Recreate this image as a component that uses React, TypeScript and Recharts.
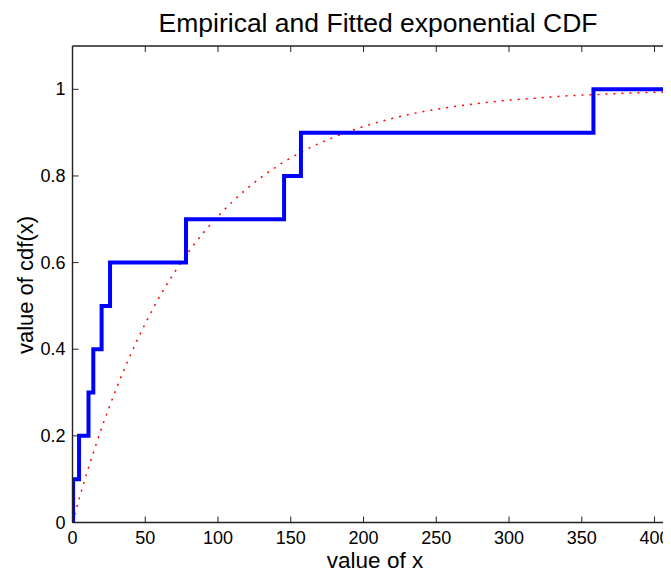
import { Line, LineChart, XAxis, YAxis } from "recharts";

// empirical cdf: jump locations and levels (stairs)
const ecdfX = [0.4, 0.4, 4.5, 11, 14.3, 20, 25.8, 78, 145.4, 157, 358, 412];
const ecdfY = [0, 0.1, 0.2, 0.3, 0.4, 0.5, 0.6, 0.7, 0.8, 0.9, 1.0, 1.0];

// fitted exponential cdf, sampled along x
const fitX = [0, 5, 10, 15, 20, 25, 30, 40, 50, 60, 70, 80, 90, 100, 120, 140, 160, 180, 200, 220, 240, 260, 280, 300, 320, 340, 360, 380, 400, 412];
const fitY = [0, 0.06, 0.116, 0.168, 0.218, 0.264, 0.308, 0.388, 0.459, 0.522, 0.577, 0.626, 0.669, 0.707, 0.771, 0.821, 0.86, 0.89, 0.914, 0.933, 0.948, 0.959, 0.968, 0.975, 0.98, 0.985, 0.988, 0.991, 0.993, 0.994];

const xTicks = [0, 50, 100, 150, 200, 250, 300, 350, 400];
const yTicks = [0, 0.2, 0.4, 0.6, 0.8, 1];

const ecdfData = ecdfX.map((x, i) => ({ x, y: ecdfY[i] }));
const fitData = fitX.map((x, i) => ({ x, y: fitY[i] }));

const FONT = '"Liberation Sans", Arial, Helvetica, sans-serif';
const AXIS = "#222";
const TICK_LEN = 6;

function BottomTick({ x, y, payload }: any) {
  return (
    <g>
      <line x1={x} y1={y} x2={x} y2={y - TICK_LEN} stroke={AXIS} strokeWidth={1} />
      <text x={x} y={y + 15} textAnchor="middle" dominantBaseline="central" fontFamily={FONT} fontSize={18} fill="#000">
        {payload.value}
      </text>
    </g>
  );
}

function TopTick({ x, y }: any) {
  return <line x1={x} y1={y} x2={x} y2={y + TICK_LEN} stroke={AXIS} strokeWidth={1} />;
}

function LeftTick({ x, y, payload }: any) {
  return (
    <g>
      <line x1={x} y1={y} x2={x + TICK_LEN} y2={y} stroke={AXIS} strokeWidth={1} />
      <text x={x - 7} y={y} textAnchor="end" dominantBaseline="central" fontFamily={FONT} fontSize={18} fill="#000">
        {payload.value}
      </text>
    </g>
  );
}

function RightTick({ x, y }: any) {
  return <line x1={x} y1={y} x2={x - TICK_LEN} y2={y} stroke={AXIS} strokeWidth={1} />;
}

export default function App() {
  return (
    <div style={{ position: "relative", width: 663, height: 564, overflow: "hidden", fontFamily: FONT }}>
      <div
        style={{
          position: "absolute",
          left: 370,
          top: 15,
          transform: "translate(-50%, -50%)",
          fontSize: 26.5,
          whiteSpace: "nowrap",
          color: "#000",
        }}
      >
        Empirical and Fitted exponential CDF
      </div>
      <div
        style={{
          position: "absolute",
          left: 367,
          top: 553,
          transform: "translate(-50%, -50%)",
          fontSize: 22.5,
          lineHeight: 0.9,
          whiteSpace: "nowrap",
          color: "#000",
        }}
      >
        value of x
      </div>
      <div
        style={{
          position: "absolute",
          left: 18,
          top: 277,
          transform: "translate(-50%, -50%) rotate(-90deg)",
          fontSize: 22,
          whiteSpace: "nowrap",
          color: "#000",
        }}
      >
        value of cdf(x)
      </div>
      <LineChart width={680} height={564} margin={{ top: 0, right: 0, bottom: 0, left: 0 }}>
        <XAxis
          xAxisId="bottom"
          dataKey="x"
          type="number"
          domain={[0, 412]}
          allowDataOverflow
          ticks={xTicks}
          height={49.5}
          axisLine={{ stroke: AXIS, strokeWidth: 1.4 }}
          tickLine={false}
          tickSize={0}
          tickMargin={0}
          tick={<BottomTick />}
          interval={0}
        />
        <XAxis
          xAxisId="top"
          orientation="top"
          dataKey="x"
          type="number"
          domain={[0, 412]}
          allowDataOverflow
          ticks={xTicks}
          height={38}
          axisLine={{ stroke: AXIS, strokeWidth: 1.4 }}
          tickLine={false}
          tickSize={0}
          tickMargin={0}
          tick={<TopTick />}
          interval={0}
        />
        <YAxis
          yAxisId="left"
          type="number"
          domain={[0, 1.1]}
          ticks={yTicks}
          width={64.5}
          axisLine={{ stroke: AXIS, strokeWidth: 1.4 }}
          tickLine={false}
          tickSize={0}
          tickMargin={0}
          tick={<LeftTick />}
          interval={0}
        />
        <YAxis
          yAxisId="right"
          orientation="right"
          type="number"
          domain={[0, 1.1]}
          ticks={yTicks}
          width={16}
          axisLine={{ stroke: AXIS, strokeWidth: 1.4 }}
          tickLine={false}
          tickSize={0}
          tickMargin={0}
          tick={<RightTick />}
          interval={0}
        />
        <Line
          xAxisId="bottom"
          yAxisId="left"
          data={fitData}
          dataKey="y"
          type="monotone"
          stroke="#ff0000"
          strokeWidth={1.5}
          strokeDasharray="2 6"
          dot={false}
          activeDot={false}
          isAnimationActive={false}
        />
        <Line
          xAxisId="bottom"
          yAxisId="left"
          data={ecdfData}
          dataKey="y"
          type="stepAfter"
          stroke="#0000ff"
          strokeWidth={4}
          dot={false}
          activeDot={false}
          isAnimationActive={false}
        />
      </LineChart>
    </div>
  );
}
